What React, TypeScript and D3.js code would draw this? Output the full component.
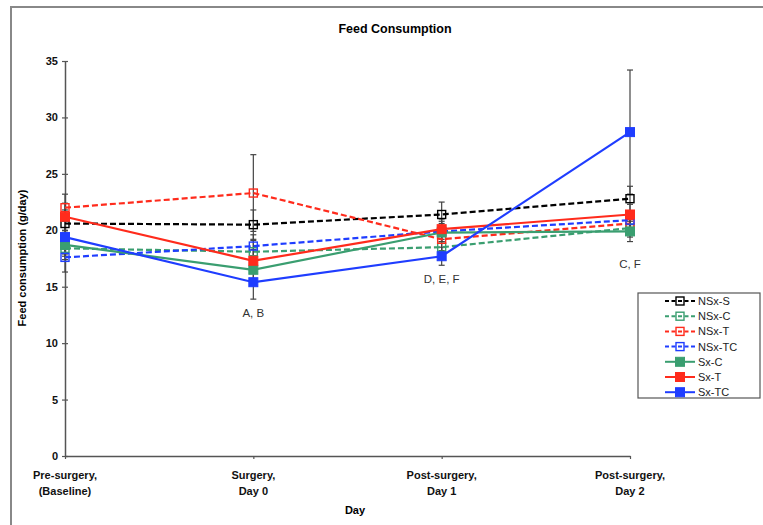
import { useEffect, useRef } from "react";
import * as d3 from "d3";

const days = ["Pre-surgery,|(Baseline)", "Surgery,|Day 0", "Post-surgery,|Day 1", "Post-surgery,|Day 2"];
const seriesNames = ["NSx-S", "NSx-C", "NSx-T", "NSx-TC", "Sx-C", "Sx-T", "Sx-TC"];
const nsxS = [20.6, 20.5, 21.4, 22.8];
const nsxC = [18.4, 18.1, 18.5, 20.2];
const nsxT = [22.0, 23.3, 19.2, 20.6];
const nsxTC = [17.6, 18.6, 19.9, 20.9];
const sxC = [18.7, 16.5, 19.8, 19.9];
const sxT = [21.2, 17.3, 20.1, 21.4];
const sxTC = [19.4, 15.4, 17.7, 28.7];
const sdNsxS = [1.2, 1.3, 1.1, 1.1];
const sdNsxC = [1.0, 1.0, 1.0, 0.8];
const sdNsxT = [1.2, 3.4, 1.0, 0.8];
const sdNsxTC = [1.3, 1.0, 0.9, 0.8];
const sdSxC = [1.0, 1.0, 0.8, 0.9];
const sdSxT = [1.2, 1.0, 0.9, 0.9];
const sdSxTC = [1.5, 1.5, 0.8, 5.5];
const yTicks = [0, 5, 10, 15, 20, 25, 30, 35];
const notes = [
  { day: 1, v: 12.3, text: "A, B" },
  { day: 2, v: 15.3, text: "D, E, F" },
  { day: 3, v: 16.7, text: "C, F" },
];

const GREEN = "#3a9e70";
const RED = "#ff2b1c";
const BLUE = "#1f3dff";
const FONT = "'Liberation Sans', Arial, sans-serif";

export default function App() {
  const ref = useRef<SVGSVGElement>(null);
  useEffect(() => {
    if (!ref.current) return;
    const svg = d3.select(ref.current);
    svg.selectAll("*").remove();

    const series = [
      { name: seriesNames[0], vals: nsxS, sd: sdNsxS, color: "#000", dashed: true },
      { name: seriesNames[1], vals: nsxC, sd: sdNsxC, color: GREEN, dashed: true },
      { name: seriesNames[2], vals: nsxT, sd: sdNsxT, color: RED, dashed: true },
      { name: seriesNames[3], vals: nsxTC, sd: sdNsxTC, color: BLUE, dashed: true },
      { name: seriesNames[4], vals: sxC, sd: sdSxC, color: GREEN, dashed: false },
      { name: seriesNames[5], vals: sxT, sd: sdSxT, color: RED, dashed: false },
      { name: seriesNames[6], vals: sxTC, sd: sdSxTC, color: BLUE, dashed: false },
    ];

    const x = d3.scalePoint<string>().domain(days).range([65, 630]);
    const y = d3.scaleLinear().domain([0, 35]).range([456, 61]);

    // outer frame (only left/top visible)
    svg.append("path").attr("d", "M11,530 L11,7 L770,7")
      .attr("fill", "none").attr("stroke", "#888").attr("stroke-width", 2);

    svg.append("text").attr("x", 395).attr("y", 33).attr("text-anchor", "middle")
      .attr("font-family", FONT).attr("font-weight", "bold").attr("font-size", 12.5)
      .text("Feed Consumption");

    // y axis
    const yAxis = svg.append("g").attr("transform", "translate(65,0)")
      .call(d3.axisLeft(y).tickValues(yTicks).tickSizeInner(3).tickSizeOuter(0).tickPadding(4).tickFormat(d3.format("d")));
    yAxis.select(".domain").attr("stroke", "#555").attr("stroke-width", 1.5);
    yAxis.selectAll(".tick line").attr("stroke", "#555").attr("stroke-width", 1.2).attr("x2", 3).attr("x1", -3);
    yAxis.selectAll("text").attr("font-family", FONT).attr("font-weight", "bold").attr("font-size", 11).attr("fill", "#111");

    // x axis
    const xAxis = svg.append("g").attr("transform", "translate(0,456)")
      .call(d3.axisBottom(x).tickSizeInner(3).tickSizeOuter(0).tickFormat(() => ""));
    xAxis.select(".domain").attr("stroke", "#555").attr("stroke-width", 1.5);
    xAxis.selectAll(".tick line").attr("stroke", "#555").attr("stroke-width", 1.2);
    days.forEach((d) => {
      const t = svg.append("text").attr("x", x(d)!).attr("y", 479).attr("text-anchor", "middle")
        .attr("font-family", FONT).attr("font-weight", "bold").attr("font-size", 11).attr("fill", "#111");
      d.split("|").forEach((ln, i) => {
        t.append("tspan").attr("x", x(d)!).attr("dy", i === 0 ? 0 : 16).text(ln);
      });
    });

    svg.append("text").attr("x", 355).attr("y", 514).attr("text-anchor", "middle")
      .attr("font-family", FONT).attr("font-weight", "bold").attr("font-size", 11).text("Day");
    svg.append("text").attr("transform", "translate(26,258) rotate(-90)").attr("text-anchor", "middle")
      .attr("font-family", FONT).attr("font-weight", "bold").attr("font-size", 11)
      .text("Feed consumption (g/day)");

    // error bars
    series.forEach((s) => {
      s.vals.forEach((v, i) => {
        const cx = x(days[i])!;
        svg.append("line").attr("x1", cx).attr("x2", cx)
          .attr("y1", y(v - s.sd[i])).attr("y2", y(v + s.sd[i]))
          .attr("stroke", "#444").attr("stroke-width", 1.2);
        [v - s.sd[i], v + s.sd[i]].forEach((e) => {
          svg.append("line").attr("x1", cx - 3).attr("x2", cx + 3)
            .attr("y1", y(e)).attr("y2", y(e)).attr("stroke", "#444").attr("stroke-width", 1.2);
        });
      });
    });

    const line = d3.line<number>().x((_, i) => x(days[i])!).y((v) => y(v));
    const drawMarker = (g: d3.Selection<any, any, any, any>, cx: number, cy: number, s: typeof series[number]) => {
      const sz = s.dashed ? 8 : 9;
      g.append("rect").attr("x", cx - sz / 2).attr("y", cy - sz / 2).attr("width", sz).attr("height", sz)
        .attr("fill", s.dashed ? "none" : s.color).attr("stroke", s.color).attr("stroke-width", s.dashed ? 1.4 : 1);
    };

    series.forEach((s) => {
      svg.append("path").datum(s.vals).attr("d", line).attr("fill", "none")
        .attr("stroke", s.color).attr("stroke-width", 2.2)
        .attr("stroke-dasharray", s.dashed ? "6,3" : null);
      s.vals.forEach((v, i) => drawMarker(svg, x(days[i])!, y(v), s));
    });

    notes.forEach((n) => {
      svg.append("text").attr("x", x(days[n.day])!).attr("y", y(n.v)).attr("text-anchor", "middle")
        .attr("font-family", FONT).attr("font-size", 11.5).attr("fill", "#333").text(n.text);
    });

    // legend
    const lg = svg.append("g");
    lg.append("rect").attr("x", 638).attr("y", 293).attr("width", 122).attr("height", 105)
      .attr("fill", "white").attr("stroke", "#555").attr("stroke-width", 1.2);
    series.forEach((s, i) => {
      const ly = 301 + i * 15.2;
      lg.append("line").attr("x1", 665).attr("x2", 695).attr("y1", ly).attr("y2", ly)
        .attr("stroke", s.color).attr("stroke-width", 2).attr("stroke-dasharray", s.dashed ? "4,2.5" : null);
      drawMarker(lg, 680, ly, s);
      lg.append("text").attr("x", 698).attr("y", ly + 4).attr("font-family", FONT).attr("font-size", 11)
        .attr("fill", "#222").text(s.name);
    });
  }, []);
  return (
    <svg ref={ref} width={763} height={525}
      style={{ position: "absolute", left: 0, top: 0, background: "white" }} />
  );
}
